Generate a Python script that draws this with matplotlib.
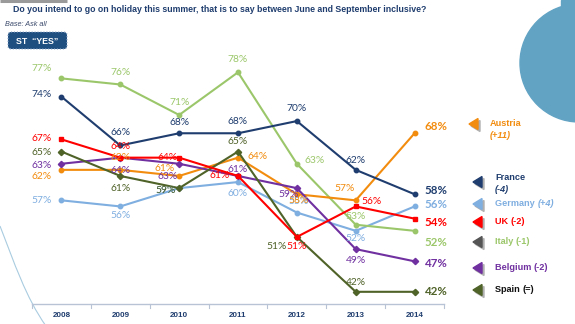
import matplotlib
matplotlib.use("Agg")
import matplotlib.pyplot as plt
from matplotlib.patches import Circle, Rectangle, FancyBboxPatch, Polygon, PathPatch
from matplotlib.path import Path

# ---------------- data ----------------
years = ["2008", "2009", "2010", "2011", "2012", "2013", "2014"]
france = [74, 66, 68, 68, 70, 62, 58]
italy = [77, 76, 71, 78, 63, 53, 52]
uk = [67, 64, 64, 61, 51, 56, 54]
spain = [65, 61, 59, 65, 51, 42, 42]
belgium = [63, 64, 63, 61, 59, 49, 47]
austria = [62, 62, 61, 64, 58, 57, 68]
germany = [57, 56, 59, 60, 55, 52, 56]

legend_names = ["Austria", "France", "Germany (+4)", "UK (-2)", "Italy (-1)", "Belgium (-2)", "Spain (=)"]
title = "Do you intend to go on holiday this summer, that is to say between June and September inclusive?"

# ---------------- styles ----------------
C_FR = "#1F3D6E"
C_IT = "#9BC76A"
C_UK = "#FF0000"
C_ES = "#4F6228"
C_BE = "#7030A0"
C_AT = "#F28C0F"
C_DE = "#7FAEE0"
NAVY = "#1F3D6E"

W, H = 575, 324
fig = plt.figure(figsize=(W / 100, H / 100), dpi=100)

# overlay axes in pixel coordinates for decorations
deco = fig.add_axes([0, 0, 1, 1], zorder=0)
deco.set_xlim(0, W)
deco.set_ylim(H, 0)
deco.axis("off")

def fx(x):
    return x / W

def fy(y):
    return 1 - y / H

# main chart axes
ax = fig.add_axes([fx(32), fy(304), (444 - 32) / W, (304 - 60.1) / H], zorder=2)
ax.patch.set_alpha(0)
ax.set_xlim(-0.5, 6.5)
ax.set_ylim(40, 80)
for s in ["top", "right", "left"]:
    ax.spines[s].set_visible(False)
ax.spines["bottom"].set_color("#B8C4D6")
ax.spines["bottom"].set_linewidth(1.0)
ax.set_yticks([])
ax.set_xticks(range(len(years)))
ax.set_xticklabels(years, fontsize=5.8, fontweight="bold", color=NAVY, family="Liberation Sans")
ax.tick_params(axis="x", length=0, pad=6)
for b in [i - 0.5 for i in range(len(years) + 1)]:
    ax.plot([b, b], [40, 39.4], color="#B8C4D6", lw=0.8, clip_on=False)

x = list(range(len(years)))
LABFONT = "Lato"

def series(vals, color, offs, marker="o", z=3):
    ax.plot(x, vals, color=color, lw=1.5, marker=marker, ms=3.2, zorder=z, clip_on=False)
    for i, (v, (dx, dy, ha)) in enumerate(zip(vals, offs)):
        last = i == len(vals) - 1
        ax.annotate(f"{v}%", (i, v), xytext=(dx, dy), textcoords="offset pixels",
                    ha=ha, va="center", color=color, family=LABFONT,
                    fontsize=8.3 if last else 7.4,
                    fontweight="bold" if last else "normal", zorder=5)

series(germany, C_DE, [(-10, 0, "right"), (0, -9, "center"), (-14, -2, "center"), (0, -11, "center"),
                       (2, 11, "center"), (0, -8, "center"), (10, 2, "left")])
series(italy, C_IT, [(-10, 10, "right"), (0, 12, "center"), (0, 12, "center"), (0, 13, "center"),
                     (8, 3, "left"), (0, 8, "center"), (10, -12, "left")])
series(austria, C_AT, [(-10, -7, "right"), (0, 12, "center"), (-15, 7, "center"), (9, 1, "left"),
                       (2, -6, "center"), (-11, 12, "center"), (10, 7, "left")])
series(belgium, C_BE, [(-10, -2, "right"), (0, -13, "center"), (-12, -13, "center"), (0, 6, "center"),
                       (-8, -6, "center"), (0, -11, "center"), (10, -2, "left")], marker="D")
series(spain, C_ES, [(-10, -1, "right"), (0, -13, "center"), (-14, -2, "center"), (0, 10, "center"),
                     (-10, -10, "right"), (0, 9, "center"), (10, 0, "left")], marker="D")
series(uk, C_UK, [(-10, 1, "right"), (0, 11, "center"), (-2, 0, "right"), (-8, 0, "right"),
                  (0, -10, "center"), (6, 5, "left"), (10, -4, "left")], marker="s")
series(france, C_FR, [(-10, 2, "right"), (0, 13, "center"), (0, 11, "center"), (0, 12, "center"),
                      (0, 13, "center"), (0, 9, "center"), (10, 4, "left")])

# ---------------- decorations ----------------
deco.add_patch(Circle((579, 63), 59, color="#62A3C4", zorder=1))
deco.add_patch(Rectangle((561, 0), 14, 8, color="#62A3C4", zorder=1))
deco.plot([0, 67], [1.2, 1.2], color="#9A9A9A", lw=2.2, solid_capstyle="butt")
arc = Path([(0, 226), (14, 262), (26, 298), (46, 326)],
           [Path.MOVETO, Path.CURVE4, Path.CURVE4, Path.CURVE4])
deco.add_patch(PathPatch(arc, fill=False, edgecolor="#A9CCE0", lw=0.8))

# title, fitted to width
t = fig.text(fx(13), fy(9), title, fontsize=7, fontweight="bold", color=NAVY,
             family="Liberation Sans", va="center", ha="left")
fig.canvas.draw()
bb = t.get_window_extent()
t.set_fontsize(7 * (430 - 13) / bb.width)

fig.text(fx(5), fy(24), "Base: Ask all", fontsize=5.2, style="italic", color="#3B4A6B",
         family="Liberation Sans", va="center")
deco.add_patch(FancyBboxPatch((8, 32), 59, 17, boxstyle="round,pad=0,rounding_size=3",
                              facecolor="#1F4E80", edgecolor="#8FA8C8", lw=0.8, linestyle=":"))
fig.text(fx(37.5), fy(41), "ST  \u201cYES\u201d", fontsize=6.3, fontweight="bold", color="white",
         family="Liberation Sans", va="center", ha="center")

# legend
leg = [
    (legend_names[0], "(+11)", C_AT, C_AT, 474, 124, 490, 123, True),
    (legend_names[1], "(-4)", C_FR, C_FR, 478, 182, 495, 177, True),
    (legend_names[2], None, C_DE, C_DE, 478, 204, 495, 204, False),
    (legend_names[3], None, C_UK, C_UK, 478, 222, 495, 222, False),
    (legend_names[4], None, "#555555", C_IT, 478, 242, 495, 242, False),
    (legend_names[5], None, C_BE, C_BE, 478, 268, 495, 268, False),
    (legend_names[6], None, C_ES, "#111111", 478, 290, 495, 290, False),
]
for name, sub, tcol, txtcol, tx, ty, lx, ly, two in leg:
    sh = 2
    deco.add_patch(Polygon([(tx - 5 + sh, ty + sh), (tx + 4 + sh, ty - 5.5 + sh), (tx + 4 + sh, ty + 5.5 + sh)],
                           closed=True, color="#B0B0B0", zorder=2))
    deco.add_patch(Polygon([(tx - 5, ty), (tx + 4, ty - 5.5), (tx + 4, ty + 5.5)],
                           closed=True, color=tcol, zorder=3))
    if two:
        fig.text(fx(lx), fy(ly), name, fontsize=6.6, fontweight="bold", color=txtcol,
                 family="Liberation Sans", va="center", ha="left")
        fig.text(fx(lx), fy(ly + 12), sub, fontsize=6.6, fontweight="bold", style="italic", color=txtcol,
                 family="Liberation Sans", va="center", ha="left")
    else:
        base, par = name.rsplit("(", 1)
        tt = fig.text(fx(lx), fy(ly), base, fontsize=6.6, fontweight="bold", color=txtcol,
                      family="Liberation Sans", va="center", ha="left")
        fig.canvas.draw()
        e = tt.get_window_extent()
        st = "italic" if name.startswith("Germany") else "normal"
        fig.text(fx(lx) + e.width / W, fy(ly), "(" + par, fontsize=6.6, fontweight="bold",
                 style=st, color=txtcol, family="Liberation Sans", va="center", ha="left")

fig.savefig("out.png", dpi=100)
